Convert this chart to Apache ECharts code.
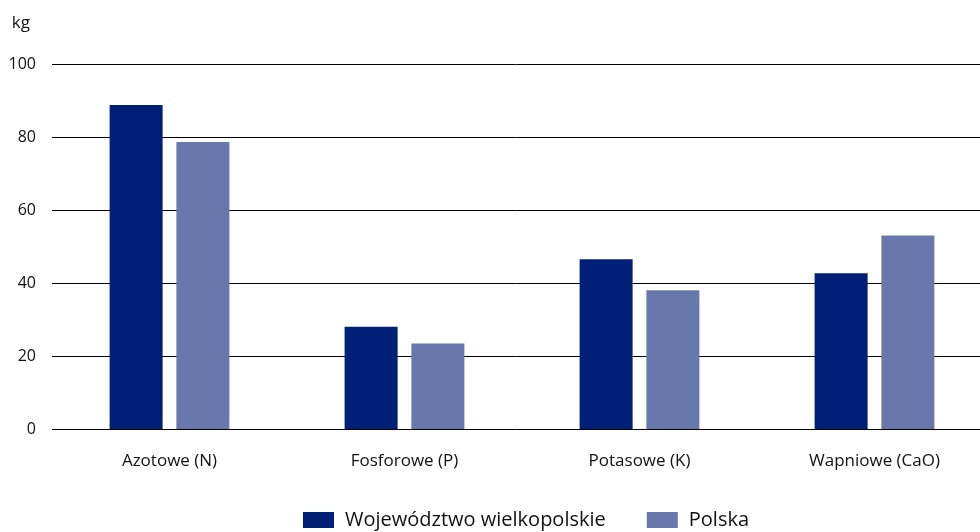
<!DOCTYPE html>
<html>
<head>
<meta charset="utf-8">
<script src="https://cdn.jsdelivr.net/npm/echarts@6/dist/echarts.min.js"></script>
<style>
  html, body { margin: 0; padding: 0; background: #fff; }
  #chart { width: 980px; height: 532px; }
</style>
</head>
<body>
<div id="chart"></div>
<script>
// dane
var categories = ['Azotowe (N)', 'Fosforowe (P)', 'Potasowe (K)', 'Wapniowe (CaO)'];
var wielkopolskie = [88.8, 28.0, 46.5, 42.7];
var polska = [78.6, 23.4, 38.0, 53.0];
var seriesNames = ['Województwo wielkopolskie', 'Polska'];

var font = '"Open Sans", "Noto Sans", sans-serif';
var textColor = '#111';

var myChart = echarts.init(document.getElementById('chart'));

var option = {
  backgroundColor: '#fff',
  color: ['#001f77', '#6878ad'],
  textStyle: { fontFamily: font, color: textColor },
  grid: {
    left: 52,
    top: 64,
    width: 940,
    height: 365,
    containLabel: false,
    outerBoundsMode: 'none'
  },
  legend: {
    left: 303,
    top: 510,
    padding: 0,
    itemWidth: 31,
    itemHeight: 16,
    itemGap: 41,
    icon: 'rect',
    textStyle: { fontFamily: font, fontSize: 20, color: textColor, padding: [0, 0, 0, 6] },
    data: seriesNames
  },
  xAxis: {
    type: 'category',
    data: categories,
    axisLine: { show: false },
    axisTick: { show: false },
    axisLabel: { margin: 24, fontSize: 17, color: textColor, fontFamily: font }
  },
  yAxis: {
    type: 'value',
    min: 0,
    max: 100,
    interval: 20,
    name: 'kg',
    nameGap: 32,
    nameTextStyle: { fontSize: 17, color: textColor, fontFamily: font, align: 'right', padding: [0, 22, 0, 0] },
    axisLine: { show: false },
    axisTick: { show: false },
    axisLabel: { margin: 16, fontSize: 16, color: textColor, fontFamily: font },
    splitLine: { lineStyle: { color: '#000', width: 1 } }
  },
  series: [{
    name: seriesNames[0],
    type: 'bar',
    barWidth: 53,
    barGap: '26%',
    data: wielkopolskie
  }, {
    name: seriesNames[1],
    type: 'bar',
    barWidth: 53,
    data: polska
  }]
};

myChart.setOption(option);
</script>
</body>
</html>
